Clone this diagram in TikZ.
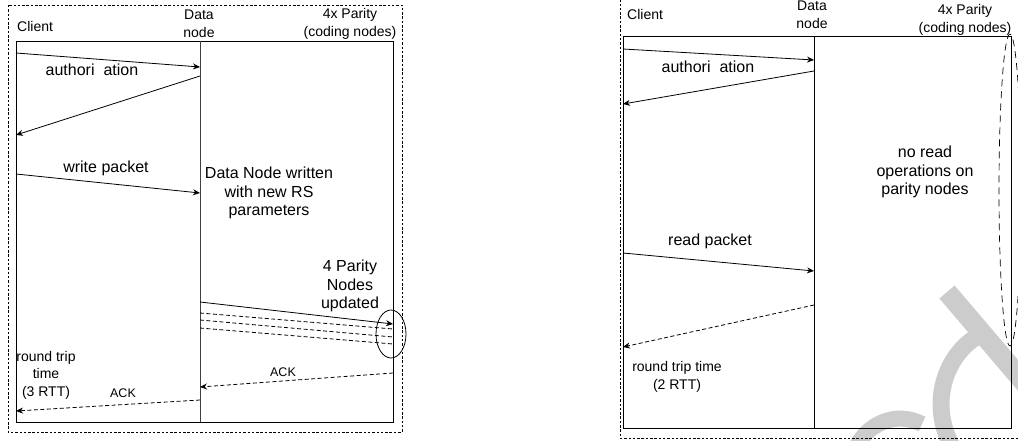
\documentclass[tikz,border=0pt]{standalone}
\usepackage{fontspec}
\setmainfont{Liberation Sans}
\usetikzlibrary{arrows.meta}

\newcommand{\bigtxt}{\fontsize{16}{18.5}\selectfont}
\newcommand{\smalltxt}{\fontsize{14}{17.5}\selectfont}
\newcommand{\acktxt}{\fontsize{12.5}{15}\selectfont}

\begin{document}
\begin{tikzpicture}[x=1pt,y=-1pt,
   lbl/.style={inner sep=0pt,align=center,font=\bigtxt},
   tag/.style={inner sep=0pt,align=center,font=\smalltxt},
   msg/.style={line width=0.8pt,-{Stealth[length=7pt,width=6pt]}},
   reply/.style={msg,dash pattern=on 4pt off 2.5pt},
   frame/.style={line width=0.7pt,dash pattern=on 2.5pt off 1.8pt},
   wmark/.style={gray!40,line width=17pt}]
   \useasboundingbox (0,0) rectangle (1018,441);
   \clip (0,0) rectangle (1018,441);

   % watermark behind everything
   \draw[wmark,line width=20pt] (947,292) -- (1045,407);
   \draw[wmark] (978,336) .. controls (945,355) and (928,405) .. (953,448);
   \draw[wmark,line width=16pt] (856,448) .. controls (866,425) and (895,410) .. (922,424);

   % write (left)
   \draw[frame] (8,5) rectangle (402,432);
   \draw[line width=0.9pt] (16,41) rectangle (393,422);
   \draw[line width=0.9pt,black!75] (200,41) -- (200,422);
   \draw[line width=0.8pt] (391,334) ellipse [x radius=15pt,y radius=24pt];

   \node[tag,anchor=west] (client) at (17,26) {Client};
   \node[tag] (data) at (199,24) {Data\\node};
   \node[tag] (parity) at (350,24) {4x Parity\\(coding nodes)};
   \node[lbl] (auth) at (92,70) {authori\hspace{9pt}ation};
   \node[lbl] (write) at (106,168) {write packet};
   \node[lbl] (written) at (269,193) {Data Node written\\with new RS\\parameters};
   \node[lbl] (updated) at (350,286) {4 Parity\\Nodes\\updated};
   \node[tag] (rtt) at (46,375) {round trip\\time\\(3 RTT)};
   \node[inner sep=0pt,font=\acktxt] (ackp) at (283,372) {ACK};
   \node[inner sep=0pt,font=\acktxt] (ackd) at (123,393) {ACK};

   \coordinate (c1) at (16,53);  \coordinate (d1) at (200,67);
   \coordinate (d2) at (200,76); \coordinate (c2) at (16,135);
   \coordinate (c3) at (16,174); \coordinate (d3) at (200,193);
   \coordinate (d4) at (200,302); \coordinate (p4) at (393,324);
   \coordinate (d5) at (200,313); \coordinate (p5) at (393,329);
   \coordinate (d6) at (200,320); \coordinate (p6) at (393,337);
   \coordinate (d7) at (200,328); \coordinate (p7) at (393,344);
   \coordinate (p8) at (393,373); \coordinate (d8) at (200,387);
   \coordinate (d9) at (200,400); \coordinate (c9) at (16,411);

   \draw[msg] (c1) -- (d1);
   \draw[msg] (d2) -- (c2);
   \draw[msg] (c3) -- (d3);
   \draw[msg] (d4) -- (p4);
   \draw[reply,-] (d5) -- (p5);
   \draw[reply,-] (d6) -- (p6);
   \draw[reply,-] (d7) -- (p7);
   \draw[reply] (p8) -- (d8);
   \draw[reply] (d9) -- (c9);

   % read (right)
   \draw[frame] (620,-5) rectangle (1030,438);
   \draw[line width=0.9pt] (623,36) rectangle (1011,428);
   \draw[line width=0.9pt] (814,36) -- (814,428);
   \draw[line width=0.7pt,dash pattern=on 7pt off 5pt] (1010,190) ellipse [x radius=11pt,y radius=156pt];

   \node[tag,anchor=west] (rclient) at (627,14) {Client};
   \node[tag] (rdata) at (812,15) {Data\\node};
   \node[tag] (rparity) at (965,20) {4x Parity\\(coding nodes)};
   \node[lbl] (rauth) at (708,67) {authori\hspace{9pt}ation};
   \node[lbl] (noread) at (925,172) {no read\\operations on\\parity nodes};
   \node[lbl] (read) at (710,241) {read packet};
   \node[tag] (rrtt) at (677,377) {round trip time\\(2 RTT)};

   \coordinate (rc1) at (623,49);  \coordinate (rd1) at (814,60);
   \coordinate (rd2) at (814,71);  \coordinate (rc2) at (623,104);
   \coordinate (rc3) at (623,253); \coordinate (rd3) at (814,271);
   \coordinate (rd4) at (814,305); \coordinate (rc4) at (623,347);

   \draw[msg] (rc1) -- (rd1);
   \draw[msg] (rd2) -- (rc2);
   \draw[msg] (rc3) -- (rd3);
   \draw[reply] (rd4) -- (rc4);
\end{tikzpicture}
\end{document}
